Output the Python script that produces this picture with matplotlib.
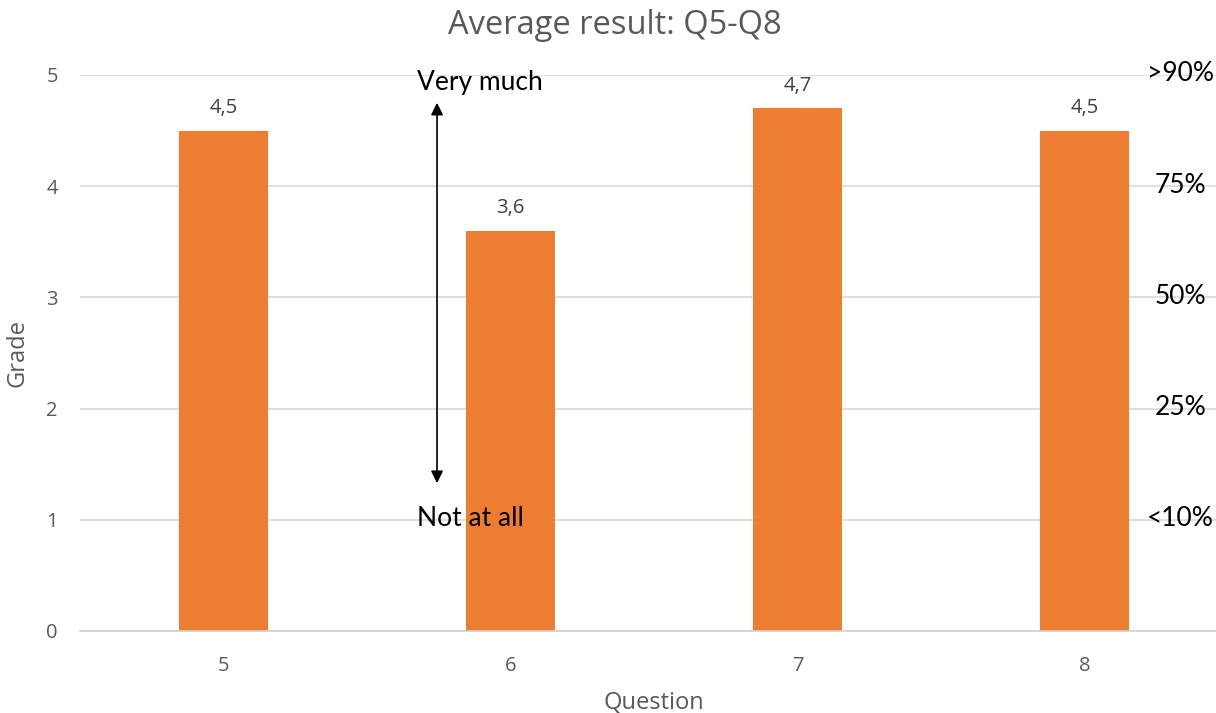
import matplotlib.pyplot as plt

# Average grade per question
questions = ["5", "6", "7", "8"]
grades = [4.5, 3.6, 4.7, 4.5]
grade_labels = ["4,5", "3,6", "4,7", "4,5"]

# Scale description on the right-hand side
scale_levels = [5, 4, 3, 2, 1]
scale_labels = [">90%", "75%", "50%", "25%", "<10%"]

plt.rcParams['font.family'] = ['Open Sans', 'DejaVu Sans']
grey = "#595959"

fig = plt.figure(figsize=(12.16, 7.13), dpi=100)
ax = fig.add_axes([80 / 1216, 82 / 713, 1148 / 1216, 556 / 713])

x = range(len(questions))
ax.bar(x, grades, width=0.307, color="#ED7D31", zorder=2)
for i, (g, lab) in enumerate(zip(grades, grade_labels)):
    ax.text(i, g + 0.11, lab, ha="center", va="bottom", fontsize=14.5, color="#404040")

ax.set_xlim(-0.5, 3.5)
ax.set_ylim(0, 5)
ax.set_xticks(list(x))
ax.set_xticklabels(questions)
ax.set_yticks(range(0, 6))
ax.yaxis.grid(True, color="#D9D9D9", linewidth=1.2, zorder=0)
ax.tick_params(axis="both", length=0, labelsize=14.5, colors=grey)
ax.tick_params(axis="x", pad=18)
ax.tick_params(axis="y", pad=16)
for side in ["top", "right", "left"]:
    ax.spines[side].set_visible(False)
ax.spines["bottom"].set_color("#D0D0D0")
ax.spines["bottom"].set_linewidth(1.2)

ax.set_xlabel("Question", fontsize=17, color=grey, labelpad=11)
ax.set_ylabel("Grade", fontsize=17, color=grey, labelpad=12)
fig.text(615 / 1216, 1 - 25 / 713, "Average result: Q5-Q8", ha="center", va="center",
         fontsize=23.5, color=grey)

# Scale arrow between question 5 and 6
ax.annotate("", xy=(0.744, 4.75), xytext=(0.744, 1.33),
            arrowprops=dict(arrowstyle="<|-|>", color="black", lw=1.2,
                            mutation_scale=18, shrinkA=0, shrinkB=0), zorder=4)
ax.text(0.674, 4.93, "Very much", ha="left", va="center", fontsize=19,
        family=['Lato', 'DejaVu Sans'], color="black", zorder=4)
ax.text(0.674, 1.01, "Not at all", ha="left", va="center", fontsize=19,
        family=['Lato', 'DejaVu Sans'], color="black", zorder=4)

for lvl, lab in zip(scale_levels, scale_labels):
    ax.text(3.335, lvl + 0.01, lab, ha="center", va="center", fontsize=19,
            family=['Lato', 'DejaVu Sans'], color="black", clip_on=False, zorder=4)

fig.savefig("out.png", dpi=100)
